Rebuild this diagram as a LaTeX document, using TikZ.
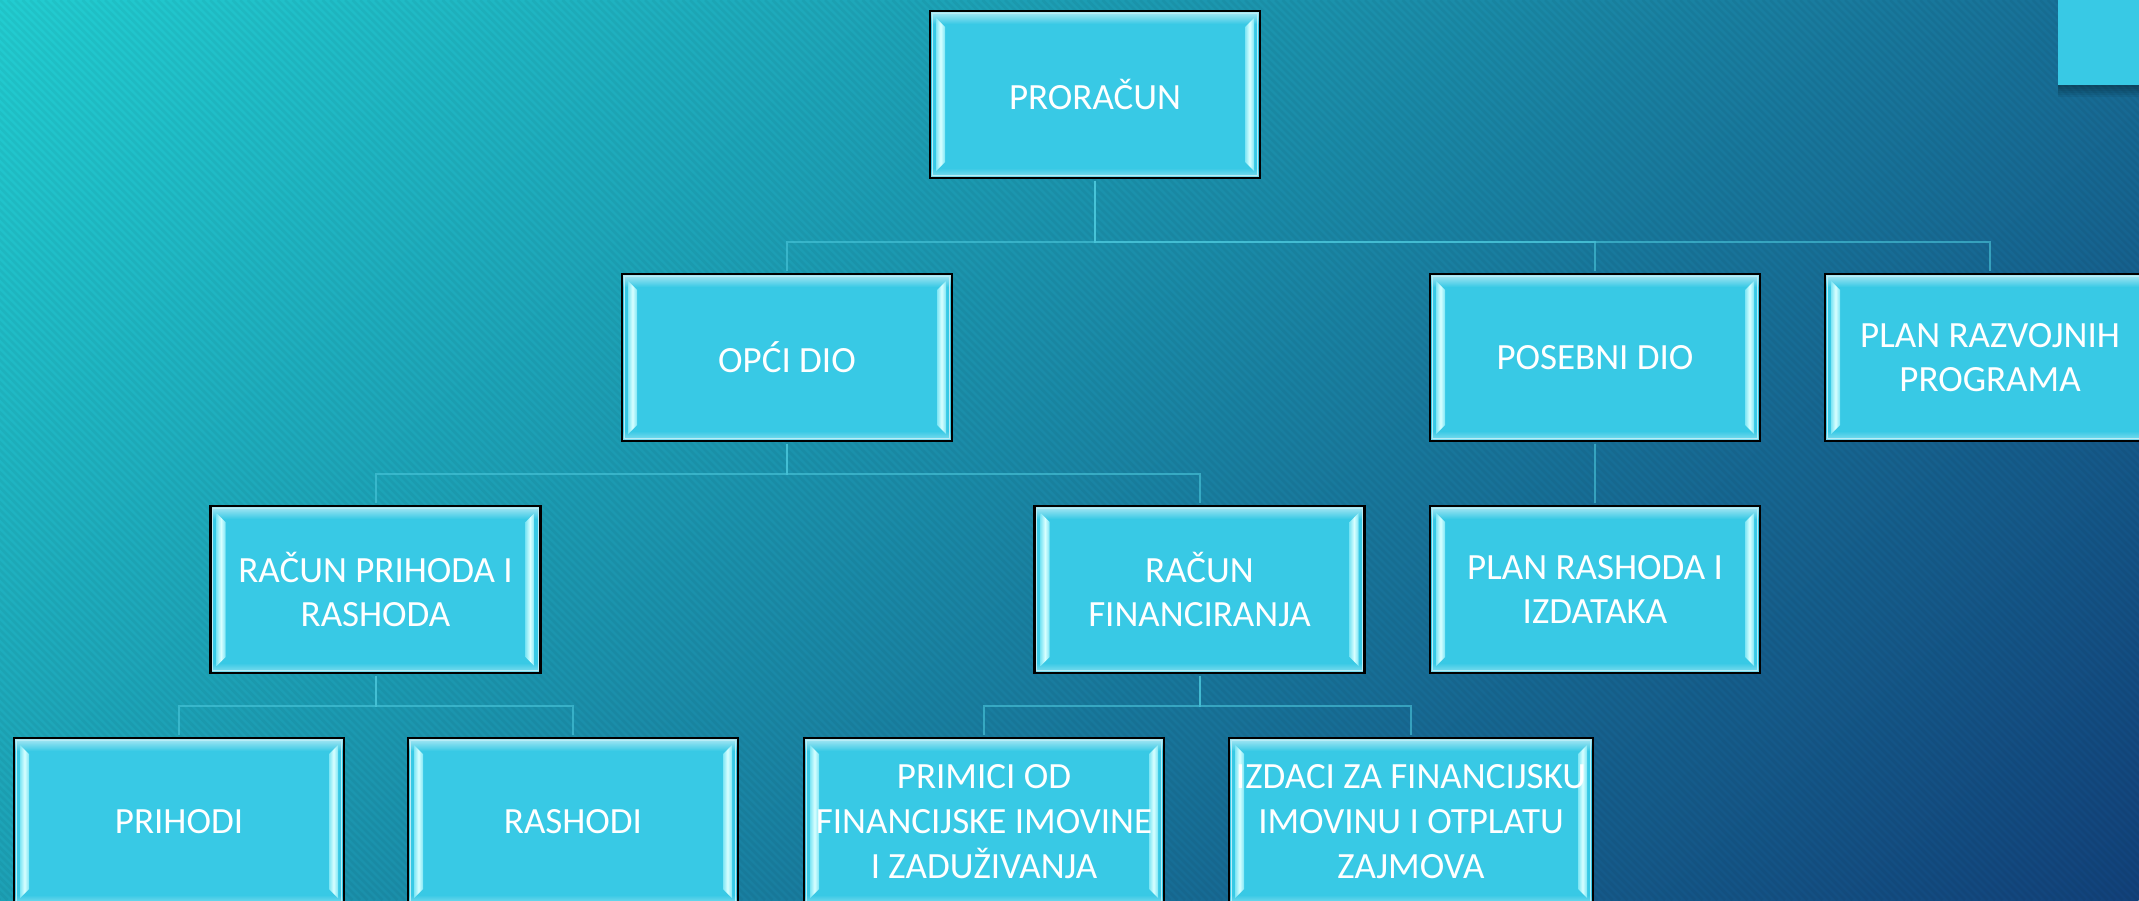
\documentclass[tikz,border=0pt]{standalone}
\usepackage{fontspec}
\newfontfamily\chartfont{Carlito}
\usetikzlibrary{positioning,calc}

\definecolor{boxfill}{HTML}{38C9E5}
\definecolor{bevelhi}{HTML}{D8FFFF}
\definecolor{bevello}{HTML}{7FE6F5}
\definecolor{bgtop}{HTML}{22CDD1}
\definecolor{bgmid}{HTML}{1E9EBD}
\definecolor{bgbot}{HTML}{12417A}
\definecolor{linkc}{HTML}{4CC8DC}

\tikzset{
  orgbox/.style={draw=black, line width=2.5pt, fill=boxfill, text=white,
    minimum width=330pt, minimum height=167pt, inner sep=0pt, align=center,
    font=\chartfont\fontsize{37}{44.7}\selectfont,
    path picture={
      \coordinate (bsw) at (path picture bounding box.south west);
      \coordinate (bne) at (path picture bounding box.north east);
      \coordinate (bnw) at (path picture bounding box.north west);
      \coordinate (bse) at (path picture bounding box.south east);
      % glow along top and bottom
      \shade[top color=white!60!boxfill, bottom color=boxfill] (bnw) rectangle ($(bne)+(0pt,-13pt)$);
      \shade[bottom color=white!40!boxfill, top color=boxfill] (bsw) rectangle ($(bse)+(0pt,10pt)$);
      \draw[line width=1.2pt, white!65!boxfill] ($(bsw)+(2.2pt,2.2pt)$) rectangle ($(bne)+(-2.2pt,-2.2pt)$);
      % side bevels
      \shade[left color=bevello, right color=bevello, middle color=bevelhi]
        ($(bnw)+(6pt,-7pt)$) -- ($(bnw)+(15pt,-16pt)$) -- ($(bsw)+(15pt,16pt)$) -- ($(bsw)+(6pt,7pt)$) -- cycle;
      \shade[left color=bevello, right color=bevello, middle color=bevelhi]
        ($(bne)+(-6pt,-7pt)$) -- ($(bne)+(-15pt,-16pt)$) -- ($(bse)+(-15pt,16pt)$) -- ($(bse)+(-6pt,7pt)$) -- cycle;
    }},
  link/.style={draw=linkc, draw opacity=.6, line width=2pt, shorten >=1.3pt, shorten <=1.3pt},
  bus/.style={to path={-- ++(0,-#1) -| (\tikztotarget)}},
}

\begin{document}
\begin{tikzpicture}[x=1pt, y=1pt]
  \useasboundingbox (0,0) rectangle (2139,-900);
  \clip (0,0) rectangle (2139,-900);
  \begin{scope}[transform canvas={rotate=-48.2}]
    \shade[left color=bgtop, middle color=bgmid, right color=bgbot] (0,-2600) rectangle (2097,2600);
  \end{scope}
  % faint stripes
  \foreach \s in {-900,-892.5,...,2139}
    \draw[black, opacity=.045, line width=2.5pt] (\s,0) -- (\s+900,-900);

  % tab in the corner
  \foreach \k in {1,...,6}
    \fill[black, opacity=.06] (2058,-85) rectangle (2139,-85-2*\k);
  \fill[boxfill] (2058,0) rectangle (2139,-85);

  \node[orgbox] (pror) at (1095,-94.5) {PRORAČUN};

  \node[orgbox] (opci) at (787,-357.5) {OPĆI DIO};
  \node[orgbox] (poseb) at (1595,-357.5) {POSEBNI DIO};
  \node[orgbox] (razv) at (1990,-357.5) {PLAN RAZVOJNIH\\PROGRAMA};

  \node[orgbox] (rpr) at (375.5,-589.5) {RAČUN PRIHODA I\\RASHODA};
  \node[orgbox] (rfin) at (1199.5,-589.5) {RAČUN\\FINANCIRANJA};
  \node[orgbox] (plras) at (1595,-589.5) {PLAN RASHODA I\\IZDATAKA};

  \node[orgbox] (prih) at (179,-821.5) {PRIHODI};
  \node[orgbox] (rash) at (573,-821.5) {RASHODI};
  \node[orgbox, minimum width=360pt] (prim) at (984,-821.5) {PRIMICI OD\\FINANCIJSKE IMOVINE\\I ZADUŽIVANJA};
  \node[orgbox, minimum width=364pt] (izd) at (1411,-821.5) {IZDACI ZA FINANCIJSKU\\IMOVINU I OTPLATU\\ZAJMOVA};

  \path[link] (pror.south) edge[bus=63] (opci.north)
              (pror.south) edge[bus=63] (poseb.north)
              (pror.south) edge[bus=63] (razv.north);

  \path[link] (opci.south) edge[bus=32] (rpr.north)
              (opci.south) edge[bus=32] (rfin.north);
  \path[link] (poseb) edge (plras);

  \path[link] (rpr.south) edge[bus=32] (prih.north)
              (rpr.south) edge[bus=32] (rash.north);
  \path[link] (rfin.south) edge[bus=32] (prim.north)
              (rfin.south) edge[bus=32] (izd.north);
\end{tikzpicture}
\end{document}
